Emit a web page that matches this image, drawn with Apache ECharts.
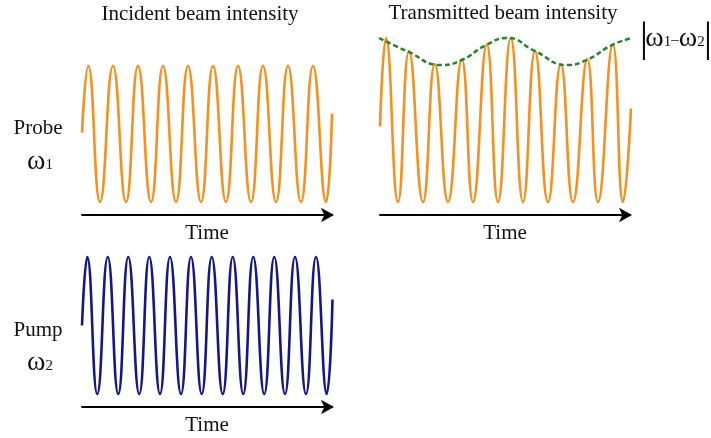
<!DOCTYPE html>
<html>
<head>
<meta charset="utf-8">
<script src="https://cdn.jsdelivr.net/npm/echarts@6/dist/echarts.min.js"></script>
<style>
  html, body { margin: 0; padding: 0; background: #fff; }
  #chart { width: 711px; height: 438px; }
</style>
</head>
<body>
<div id="chart"></div>
<script>
// time in probe periods, intensity normalised 0..1 (peaks and troughs)
const probeTime = [0, 0.25, 0.72, 1.24, 1.76, 2.24, 2.76, 3.24, 3.76, 4.24, 4.76, 5.24, 5.76, 6.24, 6.76, 7.24, 7.76, 8.24, 8.76, 9.24, 9.76, 10.0];
const probeIntensity = [0.51, 1, 0, 1, 0, 1, 0, 1, 0, 1, 0, 1, 0, 1, 0, 1, 0, 1, 0, 1, 0, 0.65];

const pumpTime = [0, 0.21, 0.61, 1.03, 1.45, 1.85, 2.29, 2.69, 3.12, 3.52, 3.96, 4.36, 4.79, 5.19, 5.63, 6.03, 6.45, 6.85, 7.29, 7.69, 8.12, 8.52, 8.96, 9.36, 9.79, 10.02];
const pumpIntensity = [0.5, 1, 0, 1, 0, 1, 0, 1, 0, 1, 0, 1, 0, 1, 0, 1, 0, 1, 0, 1, 0, 1, 0, 1, 0, 0.69];

const transTime = [0, 0.24, 0.72, 1.16, 1.72, 2.19, 2.72, 3.27, 3.72, 4.27, 4.72, 5.23, 5.72, 6.2, 6.72, 7.23, 7.72, 8.29, 8.72, 9.31, 9.72, 10.04];
const transIntensity = [0.46, 1.0, 0, 0.92, 0, 0.84, 0, 0.87, 0, 0.96, 0, 1.0, 0, 0.92, 0, 0.84, 0, 0.87, 0, 0.96, 0, 0.57];

// beat envelope |w1-w2|
const envTime = [-0.04, 1.08, 2.44, 3.28, 4.24, 5.1, 6.2, 7.48, 8.32, 9.28, 10.08];
const envIntensity = [1.0, 0.92, 0.835, 0.866, 0.957, 1.0, 0.92, 0.835, 0.87, 0.957, 1.0];

function pairs(xs, ys) {
    return xs.map((x, i) => [x, ys[i]]);
}

const serif = "'Liberation Serif', 'Times New Roman', serif";
const orange = '#F7901E';
const navy = '#16168C';
const green = '#23862A';

const chart = echarts.init(document.getElementById('chart'));

// one x axis per panel, the axis line is drawn as the "Time" arrow
function timeAxis(idx) {
    return {
        type: 'value', gridIndex: idx, min: 0, max: 10,
        offset: 13,
        name: 'Time', nameLocation: 'middle', nameGap: 8,
        nameTextStyle: { fontFamily: serif, fontSize: 21, color: '#111' },
        axisLine: { show: true, onZero: false, symbol: ['none', 'arrow'], symbolSize: [11, 13], symbolOffset: [0, 2],
            lineStyle: { color: '#000', width: 2 } },
        axisTick: { show: false }, axisLabel: { show: false }, splitLine: { show: false }
    };
}
function valAxis(idx) {
    return { type: 'value', gridIndex: idx, min: 0, max: 1, show: false };
}
function wave(idx, data, color, extra) {
    return Object.assign({
        type: 'line', xAxisIndex: idx, yAxisIndex: idx, data: data,
        smooth: 0.5, showSymbol: false, clip: false, silent: true,
        lineStyle: { color: color, width: 2.6 }
    }, extra || {});
}

const omegaRich = {
    w: { fontFamily: serif, fontSize: 28, color: '#111' },
    d: { fontFamily: serif, fontSize: 15, color: '#111', padding: [3, 0, 0, 0] },
    s: { fontFamily: serif, fontSize: 15, color: '#111', padding: [6, 0, 0, 0] }
};

function label(text, x, y, size) {
    return { type: 'text', x: x, y: y, style: { text: text, font: size + 'px ' + serif, fill: '#111',
        textAlign: 'center', textVerticalAlign: 'middle' } };
}
function omega(text, x, y) {
    return { type: 'text', x: x, y: y, style: { text: text, rich: omegaRich, fill: '#111',
        textAlign: 'center', textVerticalAlign: 'middle' } };
}

const option = {
    animation: false,
    backgroundColor: '#fff',
    grid: [
        { left: 82, top: 66, width: 250, height: 136 },
        { left: 380, top: 38, width: 250, height: 164 },
        { left: 82, top: 257, width: 250, height: 137 }
    ],
    xAxis: [timeAxis(0), timeAxis(1), timeAxis(2)],
    yAxis: [valAxis(0), valAxis(1), valAxis(2)],
    series: [
        wave(0, pairs(probeTime, probeIntensity), orange),
        wave(1, pairs(transTime, transIntensity), orange),
        wave(1, pairs(envTime, envIntensity), green, { smooth: 0.5, z: 3,
            lineStyle: { color: green, width: 2.5, type: [5, 3] } }),
        wave(2, pairs(pumpTime, pumpIntensity), navy)
    ],
    graphic: [
        label('Incident beam intensity', 200, 14, 21),
        label('Transmitted beam intensity', 503, 13, 21),
        label('Probe', 38, 128, 21),
        omega('{w|ω}{s|1}', 40, 162),
        label('Pump', 38, 330, 21),
        omega('{w|ω}{s|2}', 40, 363),
        label('|', 644, 40, 42),
        omega('{w|ω}{s|1}{d|–}{w|ω}{s|2}', 675, 39),
        label('|', 708, 40, 42)
    ]
};
chart.setOption(option);
</script>
</body>
</html>
